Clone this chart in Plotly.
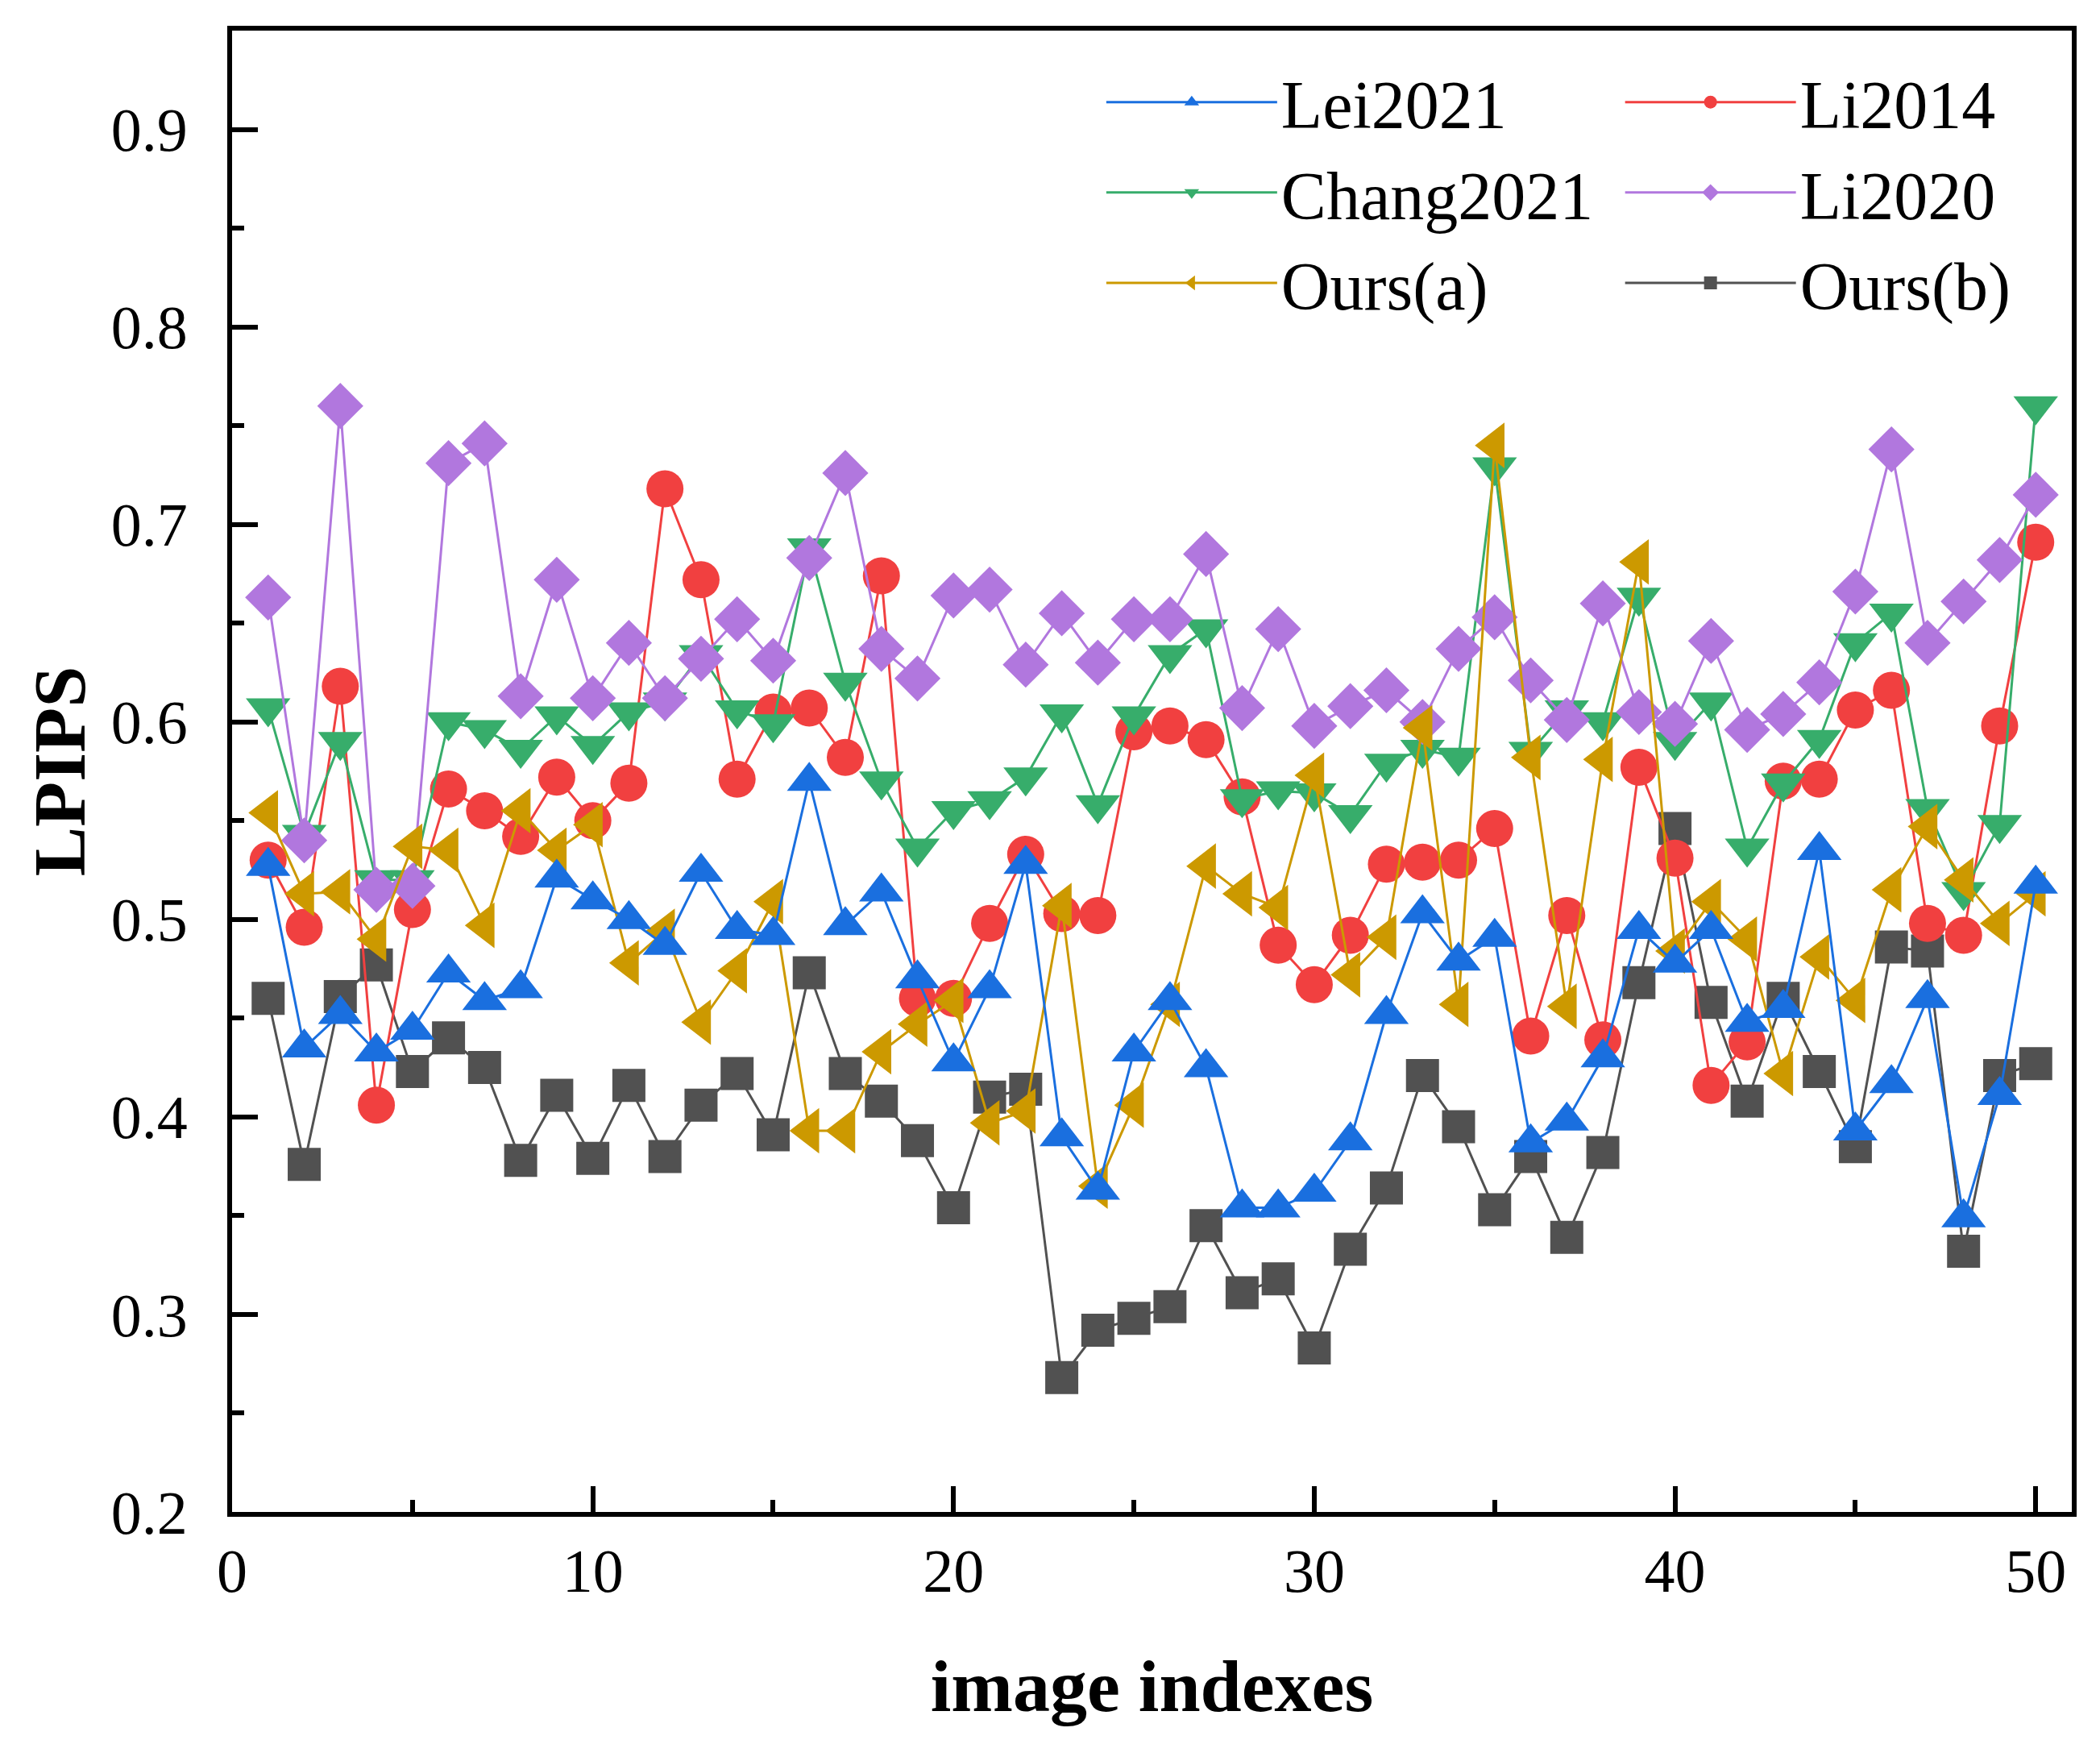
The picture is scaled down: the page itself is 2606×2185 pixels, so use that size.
import plotly.graph_objects as go

idx = list(range(1, 51))

lei2021 = [0.527, 0.435, 0.452, 0.433, 0.444, 0.473, 0.459, 0.465, 0.521, 0.510,
           0.500, 0.487, 0.524, 0.495, 0.492, 0.570, 0.497, 0.514, 0.470, 0.428,
           0.465, 0.528, 0.390, 0.363, 0.433, 0.459, 0.425, 0.354, 0.354, 0.362,
           0.388, 0.452, 0.503, 0.479, 0.491, 0.387, 0.398, 0.430, 0.495, 0.478,
           0.495, 0.448, 0.455, 0.535, 0.393, 0.417, 0.460, 0.349, 0.411, 0.518]

li2014 = [0.530, 0.496, 0.618, 0.406, 0.505, 0.566, 0.555, 0.542, 0.572, 0.550,
          0.569, 0.718, 0.672, 0.571, 0.605, 0.607, 0.582, 0.674, 0.460, 0.460,
          0.498, 0.533, 0.503, 0.502, 0.595, 0.598, 0.591, 0.562, 0.487, 0.467,
          0.492, 0.528, 0.529, 0.530, 0.546, 0.441, 0.502, 0.439, 0.577, 0.531,
          0.416, 0.438, 0.570, 0.571, 0.606, 0.616, 0.498, 0.492, 0.598, 0.691]

chang2021 = [0.607, 0.543, 0.590, 0.520, 0.520, 0.600, 0.596, 0.586, 0.603, 0.588,
             0.605, 0.610, 0.634, 0.606, 0.599, 0.688, 0.620, 0.570, 0.536, 0.555,
             0.560, 0.572, 0.604, 0.558, 0.603, 0.634, 0.647, 0.561, 0.565, 0.564,
             0.553, 0.579, 0.586, 0.582, 0.729, 0.585, 0.606, 0.600, 0.663, 0.590,
             0.610, 0.536, 0.569, 0.591, 0.640, 0.655, 0.556, 0.514, 0.548, 0.760]

li2020 = [0.663, 0.540, 0.760, 0.515, 0.517, 0.731, 0.741, 0.613, 0.672, 0.612,
          0.640, 0.612, 0.632, 0.652, 0.631, 0.683, 0.726, 0.637, 0.622, 0.664,
          0.667, 0.629, 0.655, 0.630, 0.652, 0.652, 0.685, 0.607, 0.647, 0.598,
          0.608, 0.616, 0.600, 0.637, 0.653, 0.621, 0.601, 0.660, 0.605, 0.599,
          0.641, 0.596, 0.604, 0.620, 0.666, 0.738, 0.640, 0.661, 0.682, 0.715]

ours_a = [0.554, 0.513, 0.514, 0.490, 0.537, 0.535, 0.497, 0.555, 0.535, 0.548,
          0.478, 0.494, 0.448, 0.474, 0.509, 0.393, 0.393, 0.433, 0.447, 0.459,
          0.397, 0.403, 0.507, 0.365, 0.406, 0.457, 0.527, 0.513, 0.506, 0.573,
          0.472, 0.491, 0.597, 0.457, 0.740, 0.582, 0.456, 0.581, 0.681, 0.484,
          0.509, 0.490, 0.422, 0.481, 0.459, 0.515, 0.547, 0.520, 0.498, 0.513]

ours_b = [0.460, 0.376, 0.461, 0.477, 0.423, 0.440, 0.425, 0.378, 0.411, 0.379,
          0.416, 0.380, 0.406, 0.422, 0.391, 0.473, 0.422, 0.408, 0.388, 0.354,
          0.410, 0.414, 0.268, 0.292, 0.298, 0.304, 0.345, 0.311, 0.318, 0.283,
          0.333, 0.364, 0.421, 0.395, 0.353, 0.380, 0.339, 0.382, 0.468, 0.546,
          0.458, 0.408, 0.460, 0.423, 0.385, 0.486, 0.484, 0.332, 0.421, 0.427]

x_tickvals = [0, 10, 20, 30, 40, 50]
y_tickvals = [0.2, 0.3, 0.4, 0.5, 0.6, 0.7, 0.8, 0.9]
y_ticktext = ["0.2", "0.3", "0.4", "0.5", "0.6", "0.7", "0.8", "0.9"]

FONT = "Liberation Serif"

# (name, values, color, symbol, size, legend, rank) in drawing order
series = [
    ("Ours(b)", ours_b, "#515151", "square", 41, "legend2", 3),
    ("Li2014", li2014, "#F14040", "circle", 46, "legend2", 1),
    ("Chang2021", chang2021, "#37AD6B", "triangle-down", 48, "legend", 2),
    ("Li2020", li2020, "#B177DE", "diamond", 44, "legend2", 2),
    ("Ours(a)", ours_a, "#CC9900", "triangle-left", 49, "legend", 3),
    ("Lei2021", lei2021, "#1A6FDF", "triangle-up", 48, "legend", 1),
]

fig = go.Figure()
for name, vals, color, sym, size, leg, rank in series:
    fig.add_trace(go.Scatter(
        x=idx, y=vals, name=name, mode="lines+markers",
        line=dict(color=color, width=3),
        marker=dict(symbol=sym, size=size, color=color, line=dict(width=0)),
        legend=leg, legendrank=rank,
    ))

axis_common = dict(
    showline=True, linecolor="black", linewidth=6, mirror=True,
    ticks="inside", ticklen=32, tickwidth=6, tickcolor="black",
    showgrid=False, zeroline=False,
    tickfont=dict(family=FONT, size=76, color="black"),
)

fig.update_xaxes(
    range=[0, 51], tickvals=x_tickvals,
    minor=dict(ticks="inside", ticklen=15, tickwidth=6, dtick=5, tick0=0, tickcolor="black", showgrid=False),
    title=dict(text="<b>image indexes</b>", font=dict(family=FONT, size=92, color="black"), standoff=70),
    ticklabelstandoff=2,
    **axis_common,
)
fig.update_yaxes(
    range=[0.2, 0.95], tickvals=y_tickvals, ticktext=y_ticktext,
    minor=dict(ticks="inside", ticklen=15, tickwidth=6, dtick=0.05, tick0=0.2, tickcolor="black", showgrid=False),
    title=dict(text="<b>LPIPS</b>", font=dict(family=FONT, size=92, color="black"), standoff=4),
    ticklabelstandoff=34,
    **axis_common,
)

leg_common = dict(
    font=dict(family=FONT, size=84, color="black"),
    bgcolor="rgba(0,0,0,0)", borderwidth=0,
    orientation="v", itemwidth=212, yanchor="top", y=0.985, xanchor="left",
    itemsizing="trace",
)
fig.update_layout(
    width=2606, height=2185,
    margin=dict(l=280, r=43, t=30, b=317),
    paper_bgcolor="white", plot_bgcolor="white",
    legend=dict(x=0.473, **leg_common),
    legend2=dict(x=0.755, **leg_common),
)

fig.write_html("out.html")
